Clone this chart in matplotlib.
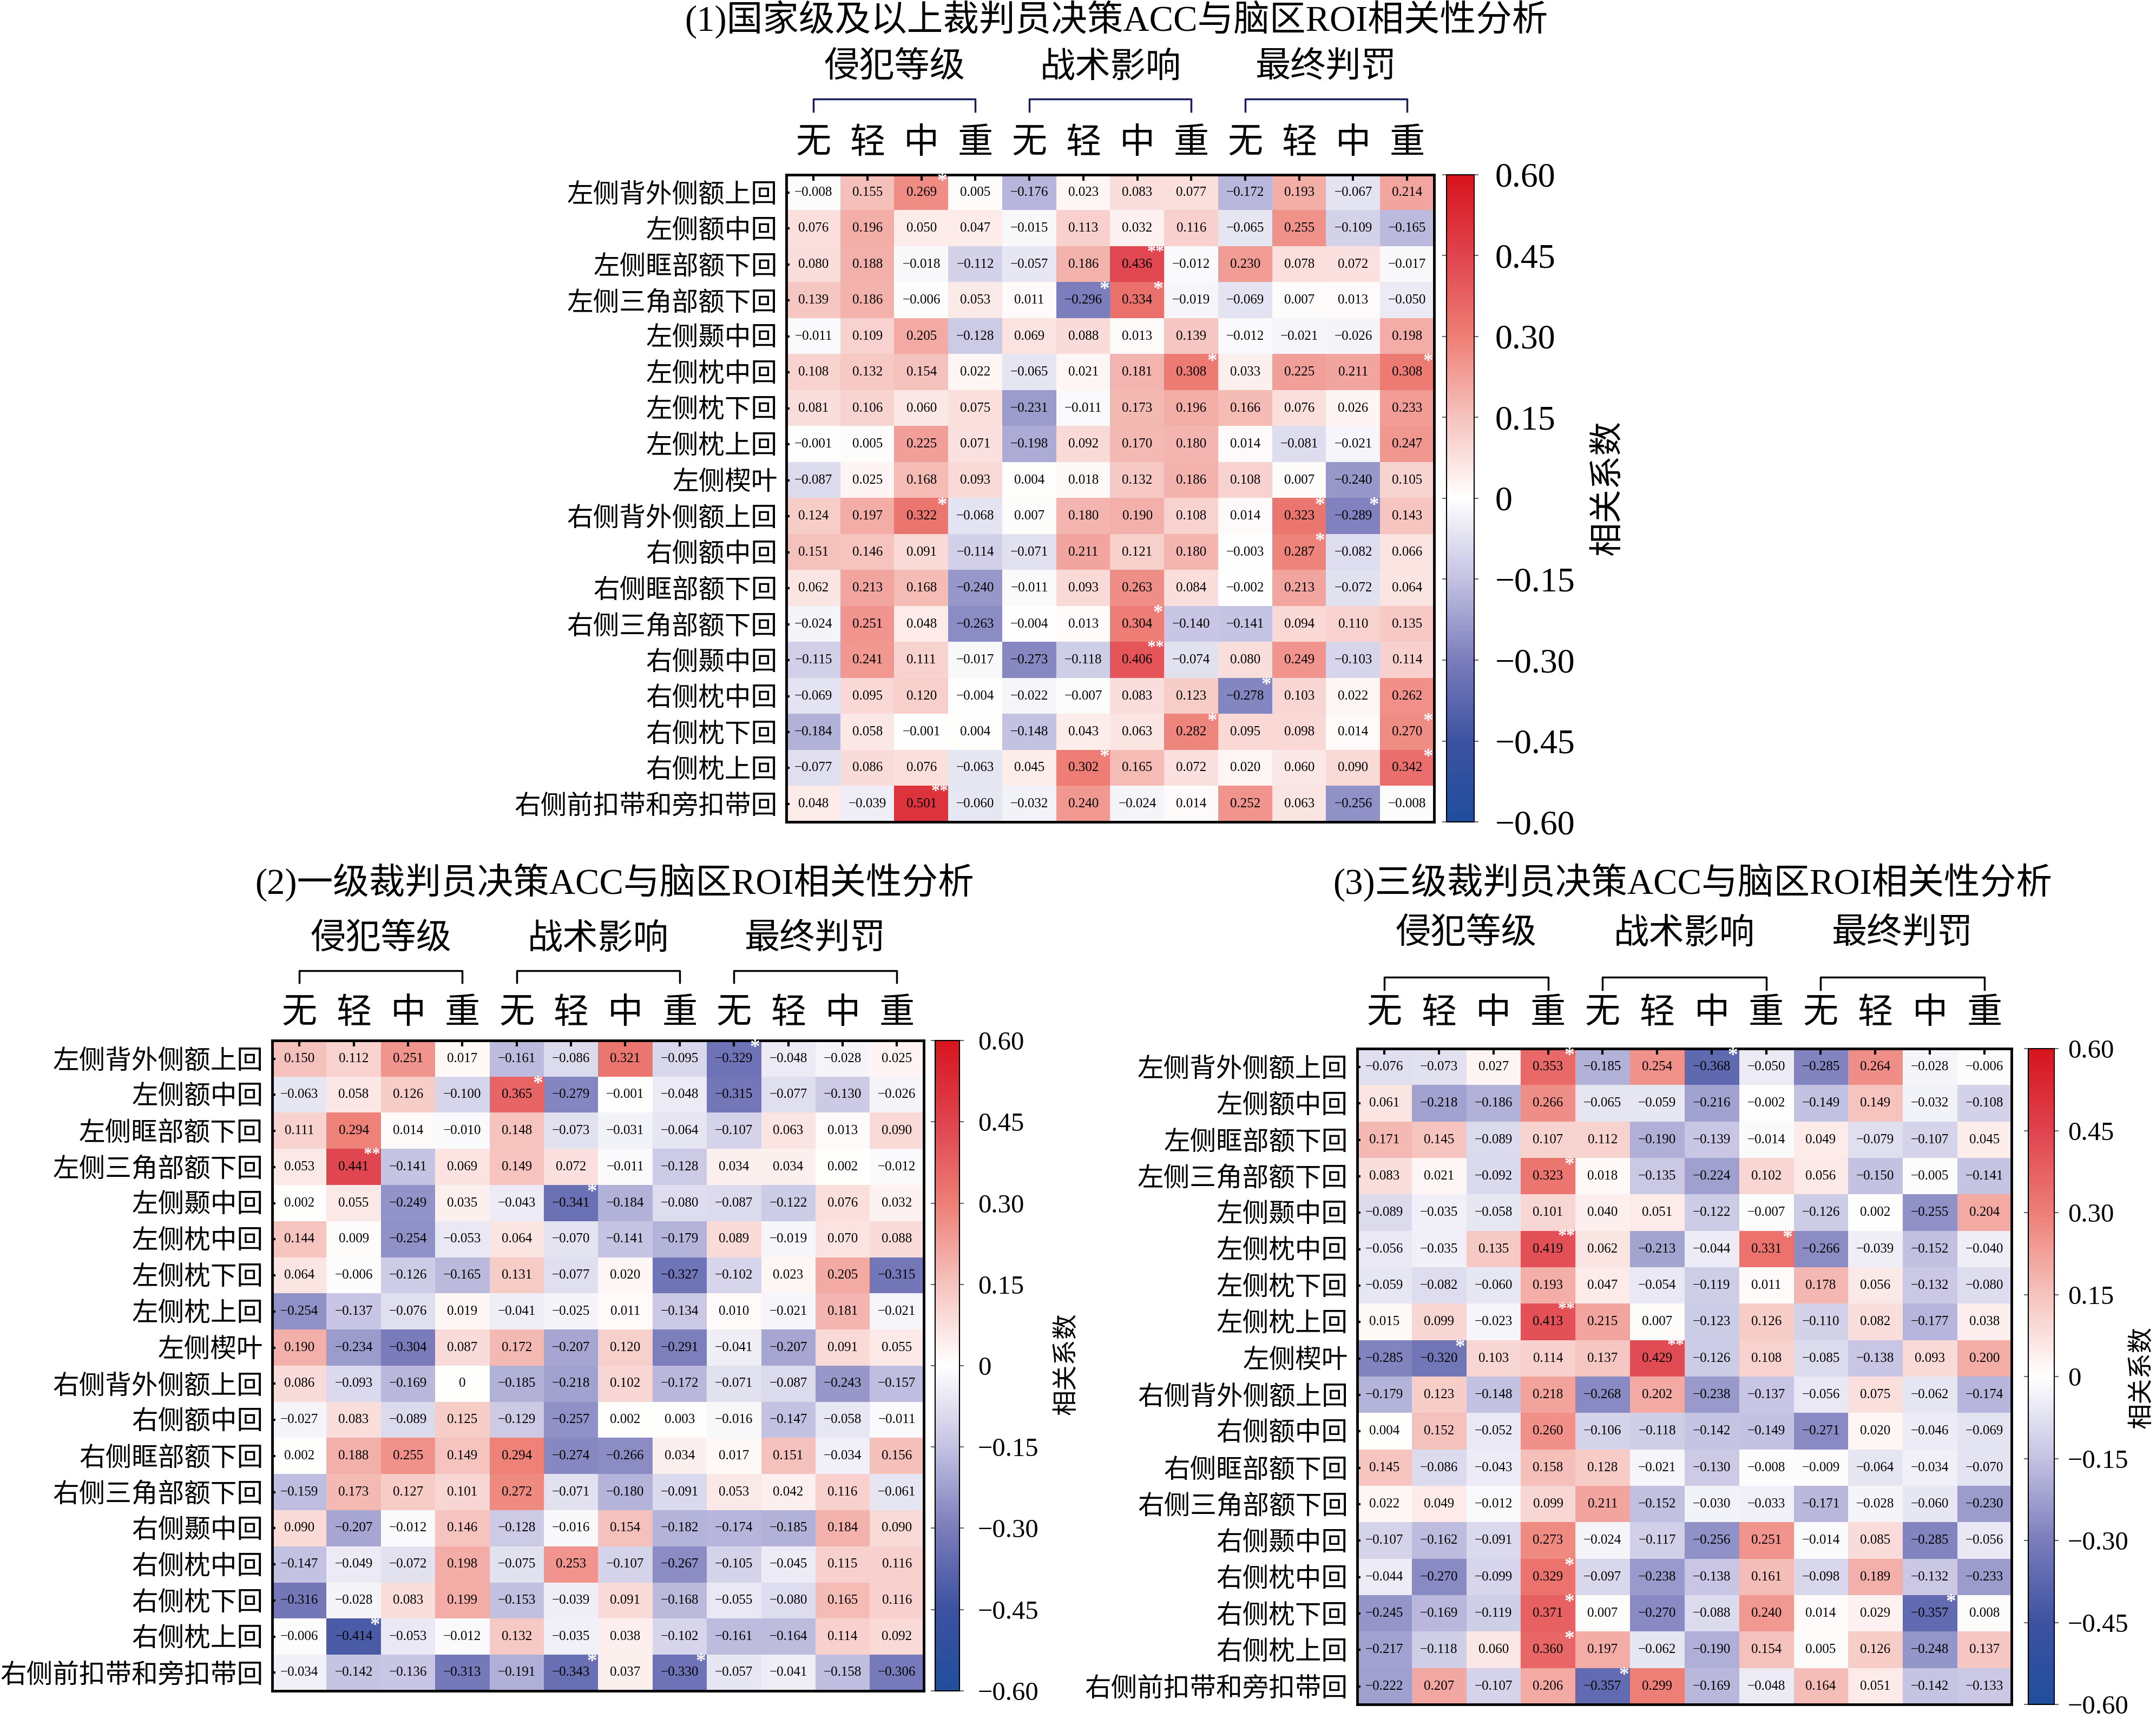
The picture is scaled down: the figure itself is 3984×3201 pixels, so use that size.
import numpy as np
import matplotlib
matplotlib.use('Agg')
import matplotlib.pyplot as plt
from matplotlib.colors import LinearSegmentedColormap
from matplotlib.lines import Line2D

plt.rcParams['font.family'] = ['Liberation Serif', 'Noto Sans CJK SC']
plt.rcParams['axes.unicode_minus'] = True

# --- data ---
ROWS = ['左侧背外侧额上回', '左侧额中回', '左侧眶部额下回', '左侧三角部额下回', '左侧颞中回',
        '左侧枕中回', '左侧枕下回', '左侧枕上回', '左侧楔叶', '右侧背外侧额上回', '右侧额中回',
        '右侧眶部额下回', '右侧三角部额下回', '右侧颞中回', '右侧枕中回', '右侧枕下回',
        '右侧枕上回', '右侧前扣带和旁扣带回']
COLS = ['无', '轻', '中', '重'] * 3
GROUPS = ['侵犯等级', '战术影响', '最终判罚']

TITLE_1 = '(1)国家级及以上裁判员决策ACC与脑区ROI相关性分析'
TITLE_2 = '(2)一级裁判员决策ACC与脑区ROI相关性分析'
TITLE_3 = '(3)三级裁判员决策ACC与脑区ROI相关性分析'

ACC_NATIONAL = [
    [-0.008, 0.155, 0.269, 0.005, -0.176, 0.023, 0.083, 0.077, -0.172, 0.193, -0.067, 0.214],
    [0.076, 0.196, 0.050, 0.047, -0.015, 0.113, 0.032, 0.116, -0.065, 0.255, -0.109, -0.165],
    [0.080, 0.188, -0.018, -0.112, -0.057, 0.186, 0.436, -0.012, 0.230, 0.078, 0.072, -0.017],
    [0.139, 0.186, -0.006, 0.053, 0.011, -0.296, 0.334, -0.019, -0.069, 0.007, 0.013, -0.050],
    [-0.011, 0.109, 0.205, -0.128, 0.069, 0.088, 0.013, 0.139, -0.012, -0.021, -0.026, 0.198],
    [0.108, 0.132, 0.154, 0.022, -0.065, 0.021, 0.181, 0.308, 0.033, 0.225, 0.211, 0.308],
    [0.081, 0.106, 0.060, 0.075, -0.231, -0.011, 0.173, 0.196, 0.166, 0.076, 0.026, 0.233],
    [-0.001, 0.005, 0.225, 0.071, -0.198, 0.092, 0.170, 0.180, 0.014, -0.081, -0.021, 0.247],
    [-0.087, 0.025, 0.168, 0.093, 0.004, 0.018, 0.132, 0.186, 0.108, 0.007, -0.240, 0.105],
    [0.124, 0.197, 0.322, -0.068, 0.007, 0.180, 0.190, 0.108, 0.014, 0.323, -0.289, 0.143],
    [0.151, 0.146, 0.091, -0.114, -0.071, 0.211, 0.121, 0.180, -0.003, 0.287, -0.082, 0.066],
    [0.062, 0.213, 0.168, -0.240, -0.011, 0.093, 0.263, 0.084, -0.002, 0.213, -0.072, 0.064],
    [-0.024, 0.251, 0.048, -0.263, -0.004, 0.013, 0.304, -0.140, -0.141, 0.094, 0.110, 0.135],
    [-0.115, 0.241, 0.111, -0.017, -0.273, -0.118, 0.406, -0.074, 0.080, 0.249, -0.103, 0.114],
    [-0.069, 0.095, 0.120, -0.004, -0.022, -0.007, 0.083, 0.123, -0.278, 0.103, 0.022, 0.262],
    [-0.184, 0.058, -0.001, 0.004, -0.148, 0.043, 0.063, 0.282, 0.095, 0.098, 0.014, 0.270],
    [-0.077, 0.086, 0.076, -0.063, 0.045, 0.302, 0.165, 0.072, 0.020, 0.060, 0.090, 0.342],
    [0.048, -0.039, 0.501, -0.060, -0.032, 0.240, -0.024, 0.014, 0.252, 0.063, -0.256, -0.008],
]
STARS_NATIONAL = {(0, 2): '*', (2, 6): '**', (3, 5): '*', (3, 6): '*', (5, 7): '*', (5, 11): '*',
                  (9, 2): '*', (9, 9): '*', (9, 10): '*', (10, 9): '*', (12, 6): '*', (13, 6): '**',
                  (14, 8): '*', (15, 7): '*', (15, 11): '*', (16, 5): '*', (16, 11): '*', (17, 2): '**'}

ACC_LEVEL1 = [
    [0.150, 0.112, 0.251, 0.017, -0.161, -0.086, 0.321, -0.095, -0.329, -0.048, -0.028, 0.025],
    [-0.063, 0.058, 0.126, -0.100, 0.365, -0.279, -0.001, -0.048, -0.315, -0.077, -0.130, -0.026],
    [0.111, 0.294, 0.014, -0.010, 0.148, -0.073, -0.031, -0.064, -0.107, 0.063, 0.013, 0.090],
    [0.053, 0.441, -0.141, 0.069, 0.149, 0.072, -0.011, -0.128, 0.034, 0.034, 0.002, -0.012],
    [0.002, 0.055, -0.249, 0.035, -0.043, -0.341, -0.184, -0.080, -0.087, -0.122, 0.076, 0.032],
    [0.144, 0.009, -0.254, -0.053, 0.064, -0.070, -0.141, -0.179, 0.089, -0.019, 0.070, 0.088],
    [0.064, -0.006, -0.126, -0.165, 0.131, -0.077, 0.020, -0.327, -0.102, 0.023, 0.205, -0.315],
    [-0.254, -0.137, -0.076, 0.019, -0.041, -0.025, 0.011, -0.134, 0.010, -0.021, 0.181, -0.021],
    [0.190, -0.234, -0.304, 0.087, 0.172, -0.207, 0.120, -0.291, -0.041, -0.207, 0.091, 0.055],
    [0.086, -0.093, -0.169, 0.0, -0.185, -0.218, 0.102, -0.172, -0.071, -0.087, -0.243, -0.157],
    [-0.027, 0.083, -0.089, 0.125, -0.129, -0.257, 0.002, 0.003, -0.016, -0.147, -0.058, -0.011],
    [0.002, 0.188, 0.255, 0.149, 0.294, -0.274, -0.266, 0.034, 0.017, 0.151, -0.034, 0.156],
    [-0.159, 0.173, 0.127, 0.101, 0.272, -0.071, -0.180, -0.091, 0.053, 0.042, 0.116, -0.061],
    [0.090, -0.207, -0.012, 0.146, -0.128, -0.016, 0.154, -0.182, -0.174, -0.185, 0.184, 0.090],
    [-0.147, -0.049, -0.072, 0.198, -0.075, 0.253, -0.107, -0.267, -0.105, -0.045, 0.115, 0.116],
    [-0.316, -0.028, 0.083, 0.199, -0.153, -0.039, 0.091, -0.168, -0.055, -0.080, 0.165, 0.116],
    [-0.006, -0.414, -0.053, -0.012, 0.132, -0.035, 0.038, -0.102, -0.161, -0.164, 0.114, 0.092],
    [-0.034, -0.142, -0.136, -0.313, -0.191, -0.343, 0.037, -0.330, -0.057, -0.041, -0.158, -0.306],
]
STARS_LEVEL1 = {(0, 8): '*', (1, 4): '*', (3, 1): '**', (4, 5): '*', (16, 1): '*', (17, 5): '*', (17, 7): '*'}

ACC_LEVEL3 = [
    [-0.076, -0.073, 0.027, 0.353, -0.185, 0.254, -0.368, -0.050, -0.285, 0.264, -0.028, -0.006],
    [0.061, -0.218, -0.186, 0.266, -0.065, -0.059, -0.216, -0.002, -0.149, 0.149, -0.032, -0.108],
    [0.171, 0.145, -0.089, 0.107, 0.112, -0.190, -0.139, -0.014, 0.049, -0.079, -0.107, 0.045],
    [0.083, 0.021, -0.092, 0.323, 0.018, -0.135, -0.224, 0.102, 0.056, -0.150, -0.005, -0.141],
    [-0.089, -0.035, -0.058, 0.101, 0.040, 0.051, -0.122, -0.007, -0.126, 0.002, -0.255, 0.204],
    [-0.056, -0.035, 0.135, 0.419, 0.062, -0.213, -0.044, 0.331, -0.266, -0.039, -0.152, -0.040],
    [-0.059, -0.082, -0.060, 0.193, 0.047, -0.054, -0.119, 0.011, 0.178, 0.056, -0.132, -0.080],
    [0.015, 0.099, -0.023, 0.413, 0.215, 0.007, -0.123, 0.126, -0.110, 0.082, -0.177, 0.038],
    [-0.285, -0.320, 0.103, 0.114, 0.137, 0.429, -0.126, 0.108, -0.085, -0.138, 0.093, 0.200],
    [-0.179, 0.123, -0.148, 0.218, -0.268, 0.202, -0.238, -0.137, -0.056, 0.075, -0.062, -0.174],
    [0.004, 0.152, -0.052, 0.260, -0.106, -0.118, -0.142, -0.149, -0.271, 0.020, -0.046, -0.069],
    [0.145, -0.086, -0.043, 0.158, 0.128, -0.021, -0.130, -0.008, -0.009, -0.064, -0.034, -0.070],
    [0.022, 0.049, -0.012, 0.099, 0.211, -0.152, -0.030, -0.033, -0.171, -0.028, -0.060, -0.230],
    [-0.107, -0.162, -0.091, 0.273, -0.024, -0.117, -0.256, 0.251, -0.014, 0.085, -0.285, -0.056],
    [-0.044, -0.270, -0.099, 0.329, -0.097, -0.238, -0.138, 0.161, -0.098, 0.189, -0.132, -0.233],
    [-0.245, -0.169, -0.119, 0.371, 0.007, -0.270, -0.088, 0.240, 0.014, 0.029, -0.357, 0.008],
    [-0.217, -0.118, 0.060, 0.360, 0.197, -0.062, -0.190, 0.154, 0.005, 0.126, -0.248, 0.137],
    [-0.222, 0.207, -0.107, 0.206, -0.357, 0.299, -0.169, -0.048, 0.164, 0.051, -0.142, -0.133],
]
STARS_LEVEL3 = {(0, 3): '*', (0, 6): '*', (3, 3): '*', (5, 3): '**', (5, 7): '*', (7, 3): '**',
                (8, 1): '*', (8, 5): '**', (14, 3): '*', (15, 3): '*', (15, 10): '*', (16, 3): '*',
                (17, 4): '*'}

CBAR_TICKS = [0.60, 0.45, 0.30, 0.15, 0, -0.15, -0.30, -0.45, -0.60]
CBAR_LABELS = ['0.60', '0.45', '0.30', '0.15', '0', '−0.15', '−0.30', '−0.45', '−0.60']

# warna colorbar (biru - putih - merah)
cmap = LinearSegmentedColormap.from_list('bwr_custom', [
    '#1f4e9c', '#3d52a1', '#7b7dbc', '#c4c2e2', '#ffffff',
    '#f6c3be', '#ee7f76', '#e0444e', '#d7141e'])

# posisi dalam piksel referensi (1568 x 1260)
W, H = 1568.0, 1260.0


def fx(x):
    return x / W


def fy(y):
    return 1 - y / H


def rect(x0, y0, x1, y1):
    return [fx(x0), fy(y1), fx(x1) - fx(x0), fy(y0) - fy(y1)]


def fmt(v):
    if v == 0:
        return '0'
    s = f'{v:.3f}'
    return s.replace('-', '−')


def draw_panel(fig, heat_box, cbar_box, data, stars, title, title_xy, y_group, y_bracket,
               y_col, cbar_label_xy, cbar_fs, cbar_pad, cbar_label_fs, bracket_color):
    data = np.array(data)
    ax = fig.add_axes(rect(*heat_box))
    im = ax.imshow(data, cmap=cmap, vmin=-0.6, vmax=0.6, aspect='auto', interpolation='nearest')

    for i in range(data.shape[0]):
        for j in range(data.shape[1]):
            ax.text(j, i, fmt(data[i, j]), ha='center', va='center', fontsize=18, color='black')
            if (i, j) in stars:
                s = stars[(i, j)]
                # bintang ganda sedikit lebih kecil & lebih tinggi
                if s == '**':
                    ax.text(j + 0.5, i - 0.34, s, ha='right', va='center',
                            fontsize=23, fontweight='bold', color='white')
                else:
                    ax.text(j + 0.48, i - 0.3, s, ha='right', va='center',
                            fontsize=27, fontweight='bold', color='white')

    ax.set_yticks(range(len(ROWS)))
    ax.set_yticklabels(ROWS, fontsize=35)
    ax.xaxis.tick_top()
    ax.set_xticks(range(len(COLS)))
    ax.set_xticklabels([])
    ax.tick_params(axis='x', direction='in', length=8, width=3, top=True, bottom=False)
    ax.tick_params(axis='y', direction='in', length=4, width=3, pad=12)
    for sp in ax.spines.values():
        sp.set_linewidth(3.5)

    # label kolom, grup, dan kurung
    x0, y0, x1, y1 = heat_box
    cw = (x1 - x0) / 12.0
    for j, c in enumerate(COLS):
        fig.text(fx(x0 + (j + 0.5) * cw), fy(y_col), c, ha='center', va='center', fontsize=47)
    for g, name in enumerate(GROUPS):
        xa = x0 + (4 * g + 0.5) * cw
        xb = x0 + (4 * g + 3.5) * cw
        fig.text(fx((xa + xb) / 2), fy(y_group), name, ha='center', va='center', fontsize=47)
        fig.add_artist(Line2D([fx(xa), fx(xa), fx(xb), fx(xb)],
                              [fy(y_bracket + 9), fy(y_bracket), fy(y_bracket), fy(y_bracket + 9)],
                              transform=fig.transFigure, color=bracket_color, lw=2.5))
    fig.text(fx(title_xy[0]), fy(title_xy[1]), title, ha='center', va='center', fontsize=48)

    # colorbar
    cax = fig.add_axes(rect(*cbar_box))
    cb = fig.colorbar(im, cax=cax, ticks=CBAR_TICKS)
    cb.ax.set_yticklabels(CBAR_LABELS, fontsize=cbar_fs)
    cb.ax.tick_params(left=True, right=True, direction='out', length=6, width=1.5,
                      color='#666666', pad=cbar_pad)
    cb.outline.set_linewidth(1.5)
    fig.text(fx(cbar_label_xy[0]), fy(cbar_label_xy[1]), '相关系数', rotation=90,
             ha='center', va='center', fontsize=cbar_label_fs)


fig = plt.figure(figsize=(39.84, 32.01), dpi=100)

draw_panel(fig, (572, 127, 1043, 598), (1052, 127, 1072, 598), ACC_NATIONAL, STARS_NATIONAL,
           TITLE_1, (812, 14), 50, 72, 105, (1170, 355), 46, 22, 45, '#1b1d5c')
draw_panel(fig, (198, 757, 672, 1230), (680, 757, 698, 1230), ACC_LEVEL1, STARS_LEVEL1,
           TITLE_2, (447, 642), 684, 706, 738, (776, 992), 35, 18, 34, 'black')
draw_panel(fig, (987, 763, 1463, 1240), (1475, 763, 1494, 1240), ACC_LEVEL3, STARS_LEVEL3,
           TITLE_3, (1231, 642), 680, 711, 738, (1558, 1002), 35, 12, 34, 'black')

fig.savefig('out.png', dpi=100)
